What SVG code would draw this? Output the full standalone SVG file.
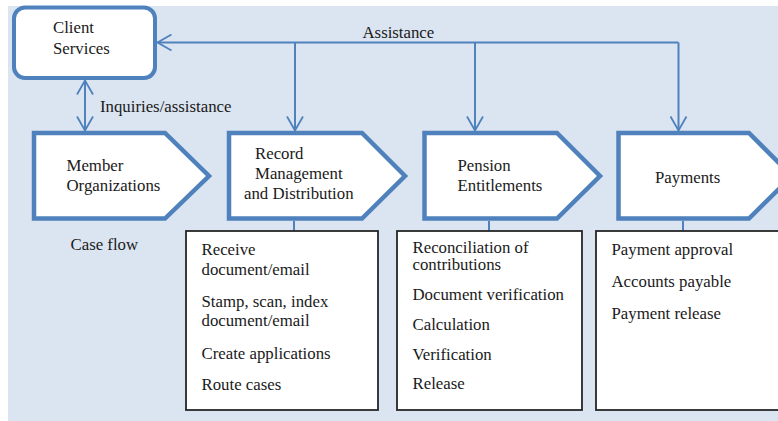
<svg xmlns="http://www.w3.org/2000/svg" width="778" height="421" viewBox="0 0 778 421">
<defs>
<style>
.t{font-family:"Liberation Serif","Times New Roman",serif;font-size:16.8px;fill:#1a1a1a}
.chev{fill:#fff;stroke:#4f81bd;stroke-width:4.5;stroke-linejoin:miter}
.box{fill:#fff;stroke:#262626;stroke-width:1.8}
.con{fill:none;stroke:#4f81bd;stroke-width:2}
</style>
<marker id="arr" markerUnits="userSpaceOnUse" viewBox="0 0 16 18" refX="15" refY="9" markerWidth="16" markerHeight="18" orient="auto-start-reverse">
<path d="M1,1 L15,9 L1,17" fill="none" stroke="#4f81bd" stroke-width="1.8"/>
</marker>
</defs>
<rect x="8" y="6" width="770" height="415" fill="#dbe5f1"/>

<g id="connectors">
<path class="con" d="M678.5,42.5 L157.5,42.5" marker-end="url(#arr)"/>
<path class="con" d="M295,42.5 V130.5" marker-end="url(#arr)"/>
<path class="con" d="M475,42.5 V130.5" marker-end="url(#arr)"/>
<path class="con" d="M678.5,42.5 V130.5" marker-end="url(#arr)"/>
<path class="con" d="M85,80.5 V130.5" marker-start="url(#arr)" marker-end="url(#arr)"/>
<path class="con" d="M294,221 V231"/>
<path class="con" d="M489,221 V231"/>
<path class="con" d="M683,221 V231"/>
<text class="t" x="362.5" y="37.5">Assistance</text>
<text class="t" x="100" y="111.5">Inquiries/assistance</text>
</g>

<g id="client-services">
<rect x="14" y="7.5" width="141" height="70.5" rx="11" fill="#fff" stroke="#4f81bd" stroke-width="4"/>
<text class="t" x="53" y="33">Client</text>
<text class="t" x="53" y="54">Services</text>
</g>

<g id="member-organizations">
<polygon class="chev" points="34,133 165,133 209,176 165,218.5 34,218.5"/>
<text class="t" x="66.5" y="170.5">Member</text>
<text class="t" x="66.5" y="190.5">Organizations</text>
</g>
<text class="t" x="70.5" y="249.5">Case flow</text>

<g id="record-management">
<polygon class="chev" points="229,133 362,133 405,176 362,218.5 229,218.5"/>
<text class="t" x="255" y="158.5">Record</text>
<text class="t" x="255" y="178.5">Management</text>
<text class="t" x="244" y="199">and Distribution</text>
</g>

<g id="pension-entitlements">
<polygon class="chev" points="424.5,133 557,133 600,176 557,218.5 424.5,218.5"/>
<text class="t" x="457.5" y="170.5">Pension</text>
<text class="t" x="457.5" y="190.5">Entitlements</text>
</g>

<g id="payments">
<polygon class="chev" points="618.5,133 749,133 792,176 749,218.5 618.5,218.5"/>
<text class="t" x="655" y="182.5">Payments</text>
</g>

<g id="record-tasks">
<rect class="box" x="186" y="231" width="192" height="179"/>
<text class="t" x="201.5" y="255">Receive</text>
<text class="t" x="201.5" y="274.5">document/email</text>
<text class="t" x="201.5" y="307">Stamp, scan, index</text>
<text class="t" x="201.5" y="326">document/email</text>
<text class="t" x="201.5" y="358.5">Create applications</text>
<text class="t" x="201.5" y="390">Route cases</text>
</g>

<g id="pension-tasks">
<rect class="box" x="397" y="231" width="185" height="179"/>
<text class="t" x="412.5" y="252.5">Reconciliation of</text>
<text class="t" x="412.5" y="270">contributions</text>
<text class="t" x="412.5" y="300">Document verification</text>
<text class="t" x="412.5" y="330">Calculation</text>
<text class="t" x="412.5" y="359.5">Verification</text>
<text class="t" x="412.5" y="388.5">Release</text>
</g>

<g id="payment-tasks">
<rect class="box" x="596" y="231" width="200" height="179"/>
<text class="t" x="611.5" y="255">Payment approval</text>
<text class="t" x="611.5" y="286.5">Accounts payable</text>
<text class="t" x="611.5" y="319">Payment release</text>
</g>
</svg>
